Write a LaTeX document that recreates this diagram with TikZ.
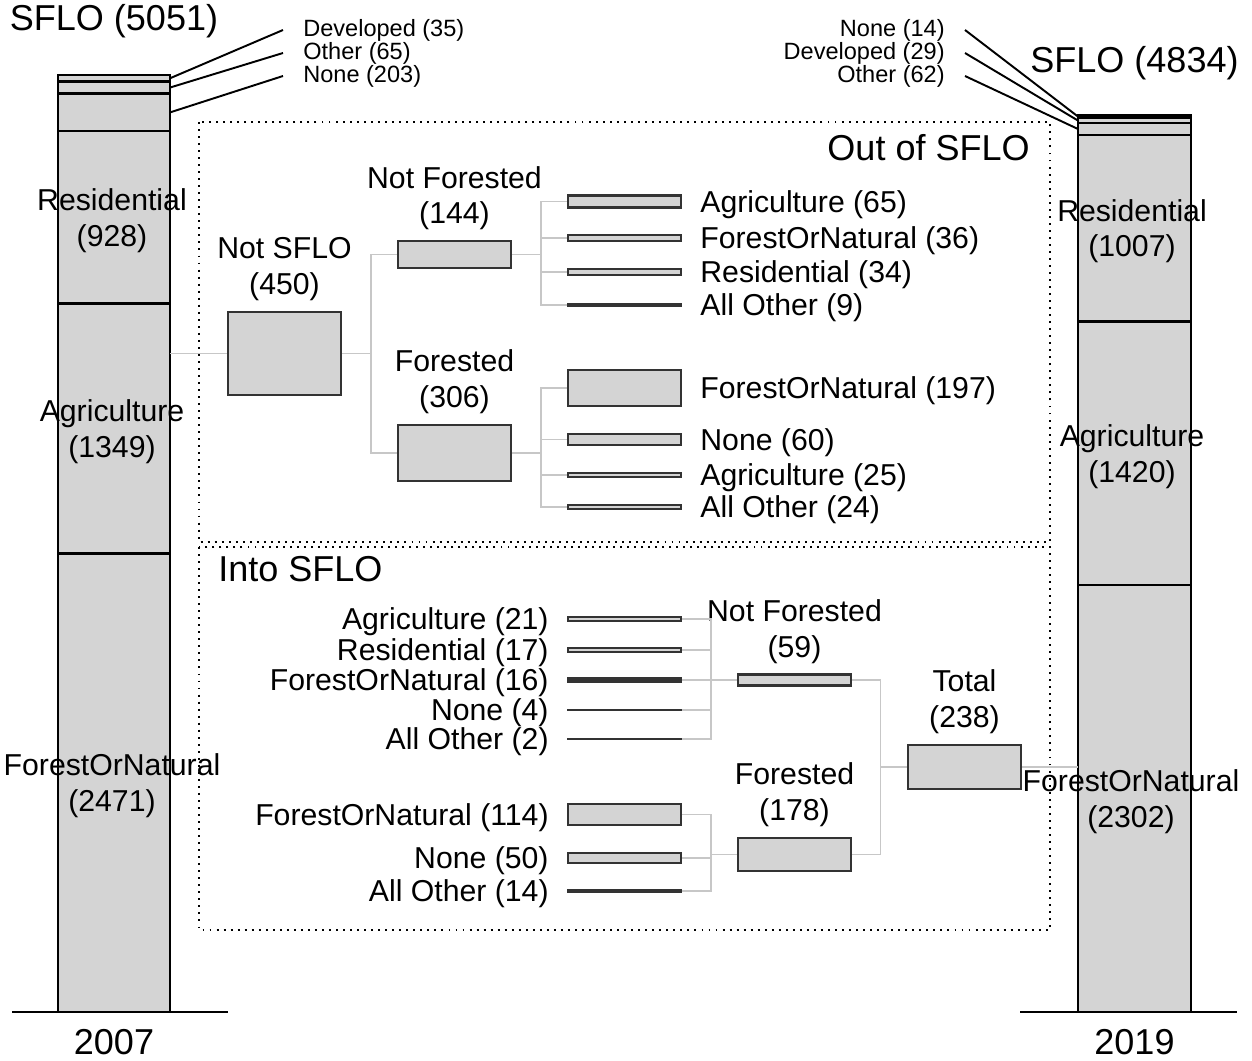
\documentclass[tikz,border=0pt]{standalone}
\usepackage{fontspec}
\setmainfont{Liberation Sans}
\usetikzlibrary{positioning, calc}

\newcommand{\hpx}{0.1855} % height of one parcel, in px
\newcommand{\catbox}[3]{
    \node[cat, minimum height={#3*\hpx*0.02cm}] (#1) at #2 {};
}

\tikzset{
    txt/.style={font=\fontsize{17.2}{20.4}\selectfont, inner sep=0pt, yshift=-0.06cm},
    big/.style={font=\fontsize{20.5}{24}\selectfont, inner sep=0pt},
    small/.style={font=\fontsize{13.4}{16}\selectfont, inner sep=0pt, yshift=-0.04cm},
    cat/.style={draw=black!80, fill=black!17, line width=1.2pt, inner sep=0pt, minimum width=2.26cm},
    bar/.style={draw=black, line width=1.4pt},
    link/.style={draw=black!22, line width=1pt},
    frame/.style={line width=1.1pt, dash pattern=on 1.1pt off 2.9pt},
    pointer/.style={draw=black, line width=1.1pt}
}

\begin{document}
\begin{tikzpicture}[x=0.02cm, y=-0.02cm, node distance=0.25cm]
    \useasboundingbox (0,0) rectangle (1252,1061);

    % 2007 bar
    \fill[black!17] (58,{1012-5051*\hpx}) rectangle (170,1012);
    \draw[bar] (58,1012) -- (58,{1012-5051*\hpx}) -- (170,{1012-5051*\hpx}) -- (170,1012);
    \foreach \c in {2471,3820,4748,4951,5016}
        \draw[bar] (58,{1012-\c*\hpx}) -- (170,{1012-\c*\hpx});
    \draw[bar, line width=1.7pt] (12,1012) -- (228,1012);
    \coordinate (bar07) at (170,0);
    \coordinate (dev07) at (170,{1012-5033.5*\hpx});
    \coordinate (oth07) at (170,{1012-4983.5*\hpx});
    \coordinate (non07) at (170,{1012-4849.5*\hpx});

    \node[big] (ttl07) at (114,21) {SFLO (5051)};
    \node[big] (yr07) at (114,1042) {2007};
    \node[txt, align=center] (res07) at (112,{1012-4284*\hpx}) {Residential\\(928)};
    \node[txt, align=center] (agr07) at (112,{1012-3145.5*\hpx}) {Agriculture\\(1349)};
    \node[txt, align=center] (for07) at (112,{1012-1235.5*\hpx}) {ForestOrNatural\\(2471)};

    \node[small, anchor=west] (dev07-lbl) at (303,28) {Developed (35)};
    \node[small, anchor=west] (oth07-lbl) at (303,51) {Other (65)};
    \node[small, anchor=west] (non07-lbl) at (303,74) {None (203)};
    \draw[pointer] (dev07) -- ($(dev07-lbl.west)+(-20,0)$);
    \draw[pointer] (oth07) -- ($(oth07-lbl.west)+(-20,0)$);
    \draw[pointer] (non07) -- ($(non07-lbl.west)+(-20,0)$);

    % 2019 bar
    \fill[black!17] (1078,{1012-4834*\hpx}) rectangle (1191,1012);
    \draw[bar] (1078,1012) -- (1078,{1012-4834*\hpx}) -- (1191,{1012-4834*\hpx}) -- (1191,1012);
    \foreach \c in {2302,3722,4729,4791,4820}
        \draw[bar] (1078,{1012-\c*\hpx}) -- (1191,{1012-\c*\hpx});
    \draw[bar, line width=1.7pt] (1020,1012) -- (1237,1012);
    \coordinate (bar19) at (1078,0);
    \coordinate (non19) at (1078,{1012-4827*\hpx});
    \coordinate (dev19) at (1078,{1012-4805.5*\hpx});
    \coordinate (oth19) at (1078,{1012-4760*\hpx});

    \node[big] (ttl19) at (1134.5,63) {SFLO (4834)};
    \node[big] (yr19) at (1134.5,1042) {2019};
    \node[txt, align=center] (res19) at (1132,{1012-4225.5*\hpx}) {Residential\\(1007)};
    \node[txt, align=center] (agr19) at (1132,{1012-3012*\hpx}) {Agriculture\\(1420)};
    \node[txt, align=center] (for19) at (1131,{1012-1151*\hpx}) {ForestOrNatural\\(2302)};

    \node[small, anchor=east] (non19-lbl) at (945,28) {None (14)};
    \node[small, anchor=east] (dev19-lbl) at (945,51) {Developed (29)};
    \node[small, anchor=east] (oth19-lbl) at (945,74) {Other (62)};
    \draw[pointer] ($(non19-lbl.east)+(20,0)$) -- (non19);
    \draw[pointer] ($(dev19-lbl.east)+(20,0)$) -- (dev19);
    \draw[pointer] ($(oth19-lbl.east)+(20,0)$) -- (oth19);

    % out of SFLO
    \draw[frame] (199,122) rectangle (1050,542);
    \node[big, anchor=east] (out-ttl) at (1030,148) {Out of SFLO};

    \catbox{nsflo}{(284.5,353.5)}{450}
    \catbox{nf}{(454.5,254.5)}{144}
    \catbox{fo}{(454.5,453)}{306}
    \node[txt, align=center, above=of nsflo] (nsflo-lbl) {Not SFLO\\(450)};
    \node[txt, align=center, above=of nf] (nf-lbl) {Not Forested\\(144)};
    \node[txt, align=center, above=of fo] (fo-lbl) {Forested\\(306)};
    \draw[link] (nsflo.west) -- (nsflo.west -| bar07);
    \draw[link] (nsflo.east) -- ++(29,0) |- (nf.west);
    \draw[link] (nsflo.east) -- ++(29,0) |- (fo.west);

    \foreach \n/\y/\c/\t in {a/201.5/65/Agriculture, b/238/36/ForestOrNatural,
                             c/272/34/Residential, d/305/9/All Other} {
        \catbox{nf\n}{(624.5,\y)}{\c}
        \node[txt, right=0.36cm of nf\n] (nf\n-lbl) {\t{} (\c)};
        \draw[link] (nf.east) -- ++(29,0) |- (nf\n.west);
    }
    \foreach \n/\y/\c/\t in {a/388/197/ForestOrNatural, b/439.5/60/None,
                             c/475/25/Agriculture, d/507/24/All Other} {
        \catbox{fo\n}{(624.5,\y)}{\c}
        \node[txt, right=0.36cm of fo\n] (fo\n-lbl) {\t{} (\c)};
        \draw[link] (fo.east) -- ++(29,0) |- (fo\n.west);
    }

    % into SFLO
    \draw[frame] (199,547) rectangle (1050,930);
    \node[big, anchor=west] (into-ttl) at (218,569) {Into SFLO};

    \catbox{inf}{(794.5,680)}{59}
    \catbox{ifo}{(794.5,854.5)}{178}
    \catbox{tot}{(964.5,767)}{238}
    \node[txt, align=center, above=of inf] (inf-lbl) {Not Forested\\(59)};
    \node[txt, align=center, above=of ifo] (ifo-lbl) {Forested\\(178)};
    \node[txt, align=center, above=of tot] (tot-lbl) {Total\\(238)};
    \draw[link] (inf.east) -- ++(28.5,0) |- (tot.west);
    \draw[link] (ifo.east) -- ++(28.5,0) |- (tot.west);
    \draw[link] (tot.east) -- (tot.east -| bar19);

    \foreach \n/\y/\c/\t in {a/619/21/Agriculture, b/650/17/Residential,
                             c/680/16/ForestOrNatural, d/710/4/None, e/739/2/All Other} {
        \catbox{inf\n}{(624.5,\y)}{\c}
        \node[txt, left=0.36cm of inf\n] (inf\n-lbl) {\t{} (\c)};
        \draw[link] (inf\n.east) -- ++(29,0) |- (inf.west);
    }
    \foreach \n/\y/\c/\t in {a/814.5/114/ForestOrNatural, b/858/50/None, c/891/14/All Other} {
        \catbox{ifo\n}{(624.5,\y)}{\c}
        \node[txt, left=0.36cm of ifo\n] (ifo\n-lbl) {\t{} (\c)};
        \draw[link] (ifo\n.east) -- ++(29,0) |- (ifo.west);
    }
\end{tikzpicture}
\end{document}
